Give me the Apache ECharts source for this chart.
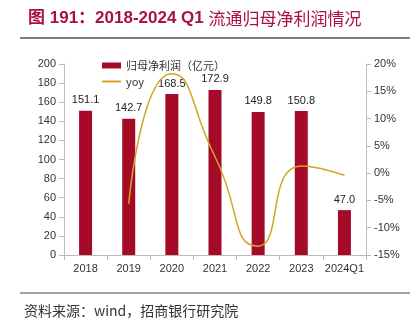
<!DOCTYPE html>
<html><head><meta charset="utf-8">
<script src="https://cdn.jsdelivr.net/npm/echarts@6/dist/echarts.min.js"></script>
<style>html,body{margin:0;padding:0;background:#fff}#c{width:417px;height:326px}</style>
</head><body><div id="c"></div>
<script>
const categories = ['2018','2019','2020','2021','2022','2023','2024Q1'];
const profit = [151.1, 142.7, 168.5, 172.9, 149.8, 150.8, 47.0];
const yoy = [null, -5.6, 18.2, 3.0, -13.4, 1.3, -0.4];
const leftTicks = {min: 0, max: 200, interval: 20};
const rightTicks = {min: -15, max: 20, interval: 5};

const chart = echarts.init(document.getElementById('c'));
const font = 'Liberation Sans, Arial, sans-serif';
chart.setOption({
  animation: false,
  title: {
    text: '{b|图 191：2018-2024 Q1 }{n|流通归母净利润情况}',
    left: 23, top: 5,
    textStyle: {
      rich: {
        b: {color: '#A8123E', fontSize: 17, fontWeight: 'bold', fontFamily: 'Liberation Sans, Noto Sans CJK SC, sans-serif'},
        n: {color: '#A8123E', fontSize: 17, fontWeight: 'normal', fontFamily: 'Noto Sans CJK SC, sans-serif'}
      }
    }
  },
  graphic: [
    {type: 'line', shape: {x1: 20, y1: 38, x2: 410, y2: 38}, style: {stroke: '#555', lineWidth: 1.5}},
    {type: 'line', shape: {x1: 20, y1: 293, x2: 410, y2: 293}, style: {stroke: '#444', lineWidth: 1}},
    {type: 'text', left: 24, top: 304, style: {text: '资料来源：wind，招商银行研究院', fill: '#333', font: '14px "Noto Sans CJK SC", sans-serif'}}
  ],
  legend: {
    left: 97, top: 55, orient: 'vertical', itemGap: 5, itemWidth: 19, itemHeight: 6,
    textStyle: {fontSize: 11, color: '#333', fontFamily: 'Noto Sans CJK SC, sans-serif'},
    data: [{name: '归母净利润（亿元）', icon: 'rect'}, {name: 'yoy', icon: 'path://M0,0 L19,0 L19,2 L0,2 Z'}]
  },
  grid: {left: 64, right: 51, top: 64, bottom: 71},
  xAxis: {
    type: 'category', data: categories,
    axisLine: {lineStyle: {color: '#bbb'}},
    axisTick: {show: true, interval: 0, alignWithLabel: false, lineStyle: {color: '#bbb'}},
    axisLabel: {interval: 0, color: '#333', fontSize: 11, fontFamily: font, margin: 8}
  },
  yAxis: [
    {type: 'value', ...leftTicks,
     axisLine: {show: true, lineStyle: {color: '#bbb'}},
     axisTick: {show: true, lineStyle: {color: '#bbb'}},
     splitLine: {show: false},
     axisLabel: {color: '#333', fontSize: 11, fontFamily: font, margin: 8}},
    {type: 'value', ...rightTicks,
     axisLine: {show: true, lineStyle: {color: '#bbb'}},
     axisTick: {show: true, lineStyle: {color: '#bbb'}},
     splitLine: {show: false},
     axisLabel: {color: '#333', fontSize: 11, fontFamily: font, margin: 8, formatter: v => v + '%'}}
  ],
  series: [
    {name: '归母净利润（亿元）', type: 'bar', data: profit, barWidth: 13,
     itemStyle: {color: '#A50A28'},
     label: {show: true, position: 'top', color: '#222', fontSize: 11, fontFamily: font, distance: 5, formatter: p => p.value.toFixed(1)}},
    {name: 'yoy', type: 'line', yAxisIndex: 1, data: yoy, smooth: 0.6, showSymbol: false, symbol: 'none',
     lineStyle: {color: '#D2A524', width: 1.5}, itemStyle: {color: '#D2A524'}}
  ]
});
</script></body></html>
